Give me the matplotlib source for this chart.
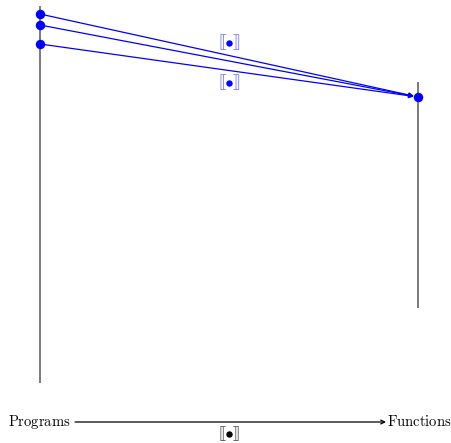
import matplotlib
matplotlib.use("Agg")
import matplotlib.pyplot as plt

# Data (pixel-space layout of the diagram)
program_axis = {"x": 40, "top": 6, "bottom": 383}
function_axis = {"x": 418, "top": 82, "bottom": 308}
program_points_y = [14, 25, 44]
function_point_y = 97
label_positions = [(229, 43), (229, 83)]
bottom_labels = ["Programs", "Functions"]

plt.rcParams["mathtext.fontset"] = "cm"

W, H = 452, 443
fig = plt.figure(figsize=(W / 100, H / 100), dpi=100)
ax = fig.add_axes([0, 0, 1, 1])
ax.set_xlim(0, W)
ax.set_ylim(H, 0)
ax.axis("off")

gray = "#6f6f6f"
blue = "#0000ff"

ax.plot([program_axis["x"]] * 2, [program_axis["top"], program_axis["bottom"]],
        color=gray, lw=1.3, solid_capstyle="butt", zorder=1)
ax.plot([function_axis["x"]] * 2, [function_axis["top"], function_axis["bottom"]],
        color=gray, lw=1.3, solid_capstyle="butt", zorder=1)

for y in program_points_y:
    ax.annotate("", xy=(function_axis["x"], function_point_y),
                xytext=(program_axis["x"], y),
                arrowprops=dict(arrowstyle="-|>", color=blue, lw=0.9,
                                mutation_scale=7, shrinkA=0, shrinkB=3),
                zorder=2)
    ax.plot(program_axis["x"], y, "o", color=blue, ms=5.8, zorder=3)
ax.plot(function_axis["x"], function_point_y, "o", color=blue, ms=5.8, zorder=3)


def sem_brackets(x, y, bcol, dcol, fs=13):
    ax.text(x - 6.5, y, "⟦", color=bcol, fontsize=fs, ha="center", va="center",
            family="DejaVu Sans")
    ax.text(x + 6.5, y, "⟧", color=bcol, fontsize=fs, ha="center", va="center",
            family="DejaVu Sans")
    ax.plot(x, y, "o", color=dcol, ms=3.6)


for (x, y) in label_positions:
    sem_brackets(x, y, "#8080ff", blue)

# Bottom arrow
ax.text(39, 422, r"$\mathrm{" + bottom_labels[0] + "}$", fontsize=10.5,
        ha="center", va="center")
ax.text(419, 422, r"$\mathrm{" + bottom_labels[1] + "}$", fontsize=10.5,
        ha="center", va="center")
ax.annotate("", xy=(386, 422), xytext=(75, 422),
            arrowprops=dict(arrowstyle="->", color="black", lw=0.9,
                            mutation_scale=7, shrinkA=0, shrinkB=0))
sem_brackets(229, 434, "#555555", "black", fs=12)

fig.savefig("out.png", dpi=100)
